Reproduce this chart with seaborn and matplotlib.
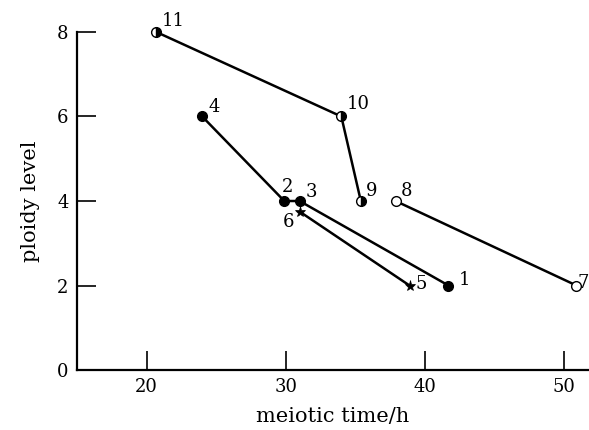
import matplotlib
matplotlib.use("Agg")
import matplotlib.pyplot as plt
import seaborn as sns
import pandas as pd

# ---- data ----
point_ids = ["11", "10", "9", "4", "2", "3", "1", "6", "5", "8", "7"]
meiotic_time = [20.7, 34.0, 35.4, 24.0, 29.9, 31.0, 41.7, 31.0, 38.9, 37.9, 50.9]
ploidy_level = [8.0, 6.0, 4.0, 6.0, 4.0, 4.0, 2.0, 3.75, 2.0, 4.0, 2.0]
series = ["A", "A", "A", "B", "B", "B", "B", "C", "C", "D", "D"]
kind = ["half", "half", "half", "filled", "filled", "filled", "filled",
        "star", "star", "open", "open"]
x_ticks = [20, 30, 40, 50]
y_ticks = [0, 2, 4, 6, 8]

df = pd.DataFrame({"id": point_ids, "time": meiotic_time, "ploidy": ploidy_level,
                   "series": series, "kind": kind})

# ---- styling ----
sns.set_theme(style="ticks")
plt.rcParams["font.family"] = ["DejaVu Serif"]

label_offsets = {"11": (17, 11), "10": (17, 12), "9": (11, 10), "4": (12, 9),
                 "2": (3, 14), "3": (12, 9), "6": (-11, -10), "5": (12, 2),
                 "1": (16, 6), "8": (11, 10), "7": (7, 3)}
marker_style = {
    "half": dict(marker="o", markersize=7, fillstyle="right", markerfacecolor="black",
                 markerfacecoloralt="white", markeredgecolor="black", markeredgewidth=1),
    "filled": dict(marker="o", markersize=7, markerfacecolor="black",
                   markeredgecolor="black", markeredgewidth=1),
    "open": dict(marker="o", markersize=7, markerfacecolor="white",
                 markeredgecolor="black", markeredgewidth=1),
    "star": dict(marker="*", markersize=8, markerfacecolor="black",
                 markeredgecolor="black", markeredgewidth=0.5),
}

fig = plt.figure(figsize=(5.89, 4.30), dpi=100)
ax = fig.add_axes([0.1307, 0.1395, 0.8693, 0.7861])

for s, g in df.groupby("series", sort=False):
    sns.lineplot(data=g, x="time", y="ploidy", sort=False, estimator=None,
                 color="black", linewidth=1.8, ax=ax, legend=False)

for _, r in df.iterrows():
    ax.plot([r["time"]], [r["ploidy"]], linestyle="none", clip_on=False, zorder=5,
            **marker_style[r["kind"]])
    dx, dy = label_offsets[r["id"]]
    ax.annotate(r["id"], (r["time"], r["ploidy"]), xytext=(dx, dy),
                textcoords="offset pixels", ha="center", va="center",
                fontsize=13, color="black", annotation_clip=False)

ax.set_xlim(15, 51.8)
ax.set_ylim(0, 8)
ax.set_xticks(x_ticks)
ax.set_yticks(y_ticks)
ax.tick_params(direction="in", length=14, width=1.2, labelsize=13, pad=6,
               colors="black")
for side in ["top", "right"]:
    ax.spines[side].set_visible(False)
for side in ["left", "bottom"]:
    ax.spines[side].set_linewidth(1.6)
    ax.spines[side].set_color("black")

ax.set_xlabel("meiotic time/h", fontsize=15, labelpad=8, color="black")
ax.set_ylabel("ploidy level", fontsize=15, labelpad=12, color="black")
ax.set_facecolor("white")
fig.patch.set_facecolor("white")

fig.savefig("out.png", dpi=100)
